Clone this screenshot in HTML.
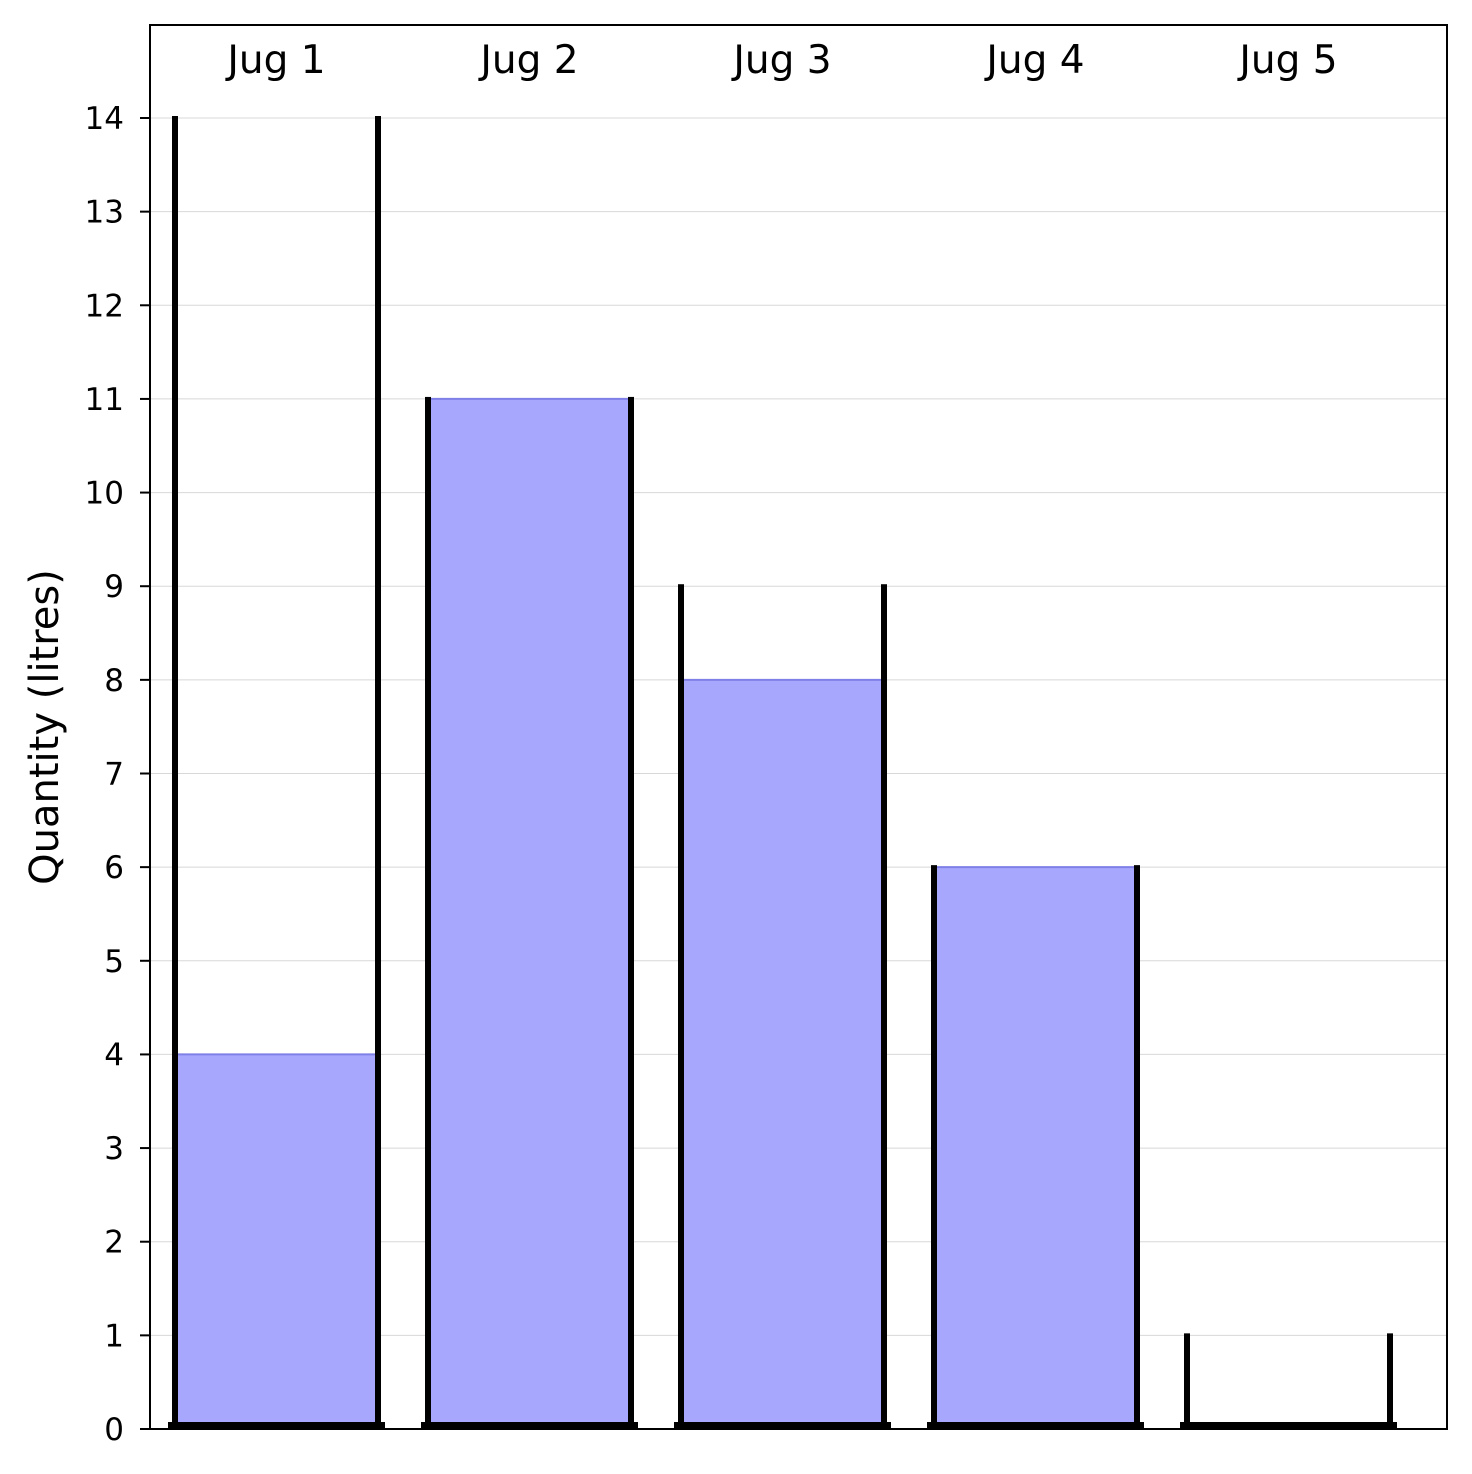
<!DOCTYPE html>
<html><head><meta charset="utf-8"><style>
html,body{margin:0;padding:0;background:#fff}
svg{display:block;font-family:"DejaVu Sans","Liberation Sans",sans-serif}
</style></head><body>
<svg id="chart" width="1472" height="1474">
<g id="grid"></g>
<g id="jugs"></g>
<rect x="150" y="25" width="1297" height="1404" fill="none" stroke="#000" stroke-width="2"/>
<g id="yticks"></g>
<text x="58" y="727" font-size="40" text-anchor="middle" transform="rotate(-90 58 727)">Quantity (litres)</text>
</svg>
<script>
const jugLabels = ["Jug 1","Jug 2","Jug 3","Jug 4","Jug 5"];
const capacities = [14, 11, 9, 6, 1];
const fills = [4, 11, 8, 6, 0];
const yTicks = [0,1,2,3,4,5,6,7,8,9,10,11,12,13,14];

const NS = "http://www.w3.org/2000/svg";
const y = v => 1429 - v * (1429 - 118) / 14;
const xc = i => 276.5 + i * 253;
function mk(tag, attrs, parent, text) {
  const e = document.createElementNS(NS, tag);
  for (const k in attrs) e.setAttribute(k, attrs[k]);
  if (text !== undefined) e.textContent = text;
  parent.appendChild(e);
  return e;
}
const grid = document.getElementById('grid');
const yt = document.getElementById('yticks');
yTicks.forEach(t => {
  const g = mk('line', {x1:150, x2:1447, y1:y(t), y2:y(t), stroke:'#d8d8d8', 'stroke-width':1}, grid);
  
  
  const tk = mk('line', {x1:140, x2:150, y1:y(t), y2:y(t), stroke:'#000', 'stroke-width':2}, yt);
  
  
  const lb = mk('text', {x:124, y:y(t)+11, 'font-size':31, 'text-anchor':'end'}, yt, String(t));
  
  
});
const jg = document.getElementById('jugs');
jugLabels.forEach((name, i) => {
  const c = xc(i);
  const L = c - 101.5, R = c + 101.5;
  const g = mk('g', {}, jg);
  
  
  if (fills[i] > 0) {
    const f = mk('rect', {x:L+3, y:y(fills[i]), width:R-L-6, height:y(0)-y(fills[i]), fill:'#a7a7fd'}, g);
    
    
    const tl = mk('line', {x1:L+3, x2:R-3, y1:y(fills[i]), y2:y(fills[i]), stroke:'#7f7fe8', 'stroke-width':2}, g);
    
    
  }
  [L, R].forEach(xw => {
    const w = mk('rect', {x:xw-3, y:y(capacities[i])-2, width:6, height:y(0)-y(capacities[i])-2}, g);
    
    
  });
  const b = mk('rect', {x:L-7, y:1422, width:R-L+14, height:6}, g);
  
  
  const t = mk('text', {x:c, y:73, 'font-size':39, 'text-anchor':'middle'}, g, name);
  
  
});
</script>
</body></html>
